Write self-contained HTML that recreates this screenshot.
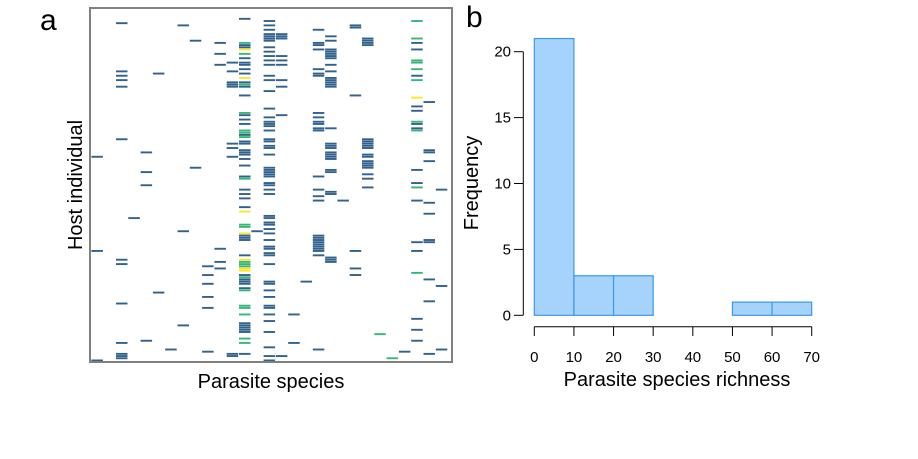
<!DOCTYPE html>
<html><head><meta charset="utf-8"><style>
html,body{margin:0;padding:0;background:#fff;}
svg{display:block;font-family:"Liberation Sans","DejaVu Sans",sans-serif;}
</style></head><body>
<svg id="fig" width="918" height="459" viewBox="0 0 918 459">
<text x="40" y="30" font-size="30">a</text>
<text x="466" y="27" font-size="30">b</text>
<g id="heat"></g>
<rect x="90" y="8" width="362" height="354" fill="none" stroke="#808080" stroke-width="2"/>
<text x="271" y="388" font-size="20" text-anchor="middle">Parasite species</text>
<text transform="translate(82,185) rotate(-90)" font-size="20" text-anchor="middle">Host individual</text>
<g id="hist"></g>
<text x="677" y="386" font-size="20" text-anchor="middle">Parasite species richness</text>
<text transform="translate(478,183) rotate(-90)" font-size="20" text-anchor="middle">Frequency</text>
</svg>
<script>
// Panel a data: per-parasite lists of host rows; value 1=blue,2=green,3=yellow
const nCols = 29;
const nRows = 161;
const cellCols = [0,0,0,2,2,2,2,2,2,2,2,2,2,2,2,2,3,4,4,4,4,5,5,6,7,7,7,8,8,9,9,9,9,9,9,10,10,10,10,10,10,11,11,11,11,11,11,11,11,11,11];
const cellRows = [67,110,160,6,28,30,32,35,59,114,116,134,152,157,158,159,95,65,74,80,151,29,129,155,7,101,144,14,72,117,121,125,131,136,156,15,20,25,109,115,118,24,28,33,34,35,61,63,67,157,158];
const colorMap = {1:"#31618d",2:"#35b779",3:"#fde725"};
const c12Rows = [4,15,16,17,18,20,22,24,25,27,29,31,33,34,35,39,47,48,50,52,55,56,57,58,60,61,64,65,66,68,71,76,77,82,84,86,90,92,98,99,102,103,104,105,112,114,115,116,117,118,119,121,122,123,124,125,127,128,135,136,139,143,144,145,146,147,150,152,157];
const c12Vals = [1,2,1,1,3,2,1,1,1,1,1,3,1,2,1,1,2,1,1,1,2,2,1,2,1,1,1,1,1,1,1,1,2,1,1,1,1,3,2,2,3,1,1,1,1,3,2,2,2,3,3,1,2,1,1,1,1,2,2,2,2,1,1,1,1,1,2,2,1];
const otherCols = {
 13:[101],
 14:[5,7,9,11,12,13,14,17,19,21,23,25,30,32,37,45,49,51,52,53,55,59,60,62,63,66,72,73,74,75,76,79,80,82,84,94,95,97,98,100,102,105,108,109,111,112,116,124,125,128,131,135,136,139,142,147,154,158,160],
 15:[11,12,13,21,23,25,32,35,48,158],
 16:[139,152],
 17:[124],
 18:[9,15,16,18,27,29,30,47,49,51,52,54,55,76,82,85,87,103,104,105,106,107,108,109,110,112,155],
 19:[12,14,18,19,20,21,22,25,28,31,32,33,34,35,54,61,62,63,65,66,67,68,73,74,83,84,113,114,115],
 20:[87],
 21:[7,8,39,110,118,121],
 22:[13,14,15,16,59,60,61,62,63,66,67,69,70,71,72,75,77,81],
 25:[156],
 27:[42,64,65,69,88,93,105,106,123,133,157],
 28:[82,126,155]
};
const greenCols = {23:[148],24:[159]};
const c26Rows = [5,13,15,18,23,24,27,30,32,40,44,46,51,52,54,55,73,79,81,87,106,110,120,141,146,151];
const c26Vals = [2,2,1,1,2,2,2,1,2,3,1,1,2,1,1,2,1,1,2,1,1,1,2,1,1,1];

const x0 = 91, colW = 12.3, y0 = 9, rowH = 2.19;
const heat = document.getElementById('heat');
const NS = "http://www.w3.org/2000/svg";
function cx(c){return x0 + c*colW;}
function ry(r){return y0 + r*rowH;}
function cell(c,r,v){
  const el = document.createElementNS(NS,'rect');
  el.setAttribute('x', cx(c)+0.4);
  el.setAttribute('y', ry(r)+0.1);
  el.setAttribute('width', colW-0.8);
  el.setAttribute('height', 1.9);
  el.setAttribute('fill', colorMap[v]);
  
  
  heat.appendChild(el);
}
for (let i=0;i<cellRows.length;i++) cell(cellCols[i], cellRows[i], 1);
for (let i=0;i<c12Rows.length;i++) cell(12, c12Rows[i], c12Vals[i]);
for (const k in otherCols) otherCols[k].forEach(r=>cell(+k, r, 1));
for (const k in greenCols) greenCols[k].forEach(r=>cell(+k, r, 2));
for (let i=0;i<c26Rows.length;i++) cell(26, c26Rows[i], c26Vals[i]);

// Panel b histogram data
const binStarts = [0,10,20,30,40,50,60];
const binCounts = [21,3,3,0,0,1,1];
const xTicks = [0,10,20,30,40,50,60,70];
const yTicks = [0,5,10,15,20];
const hist = document.getElementById('hist');
function hx(v){return 534.3 + v*(811.7-534.3)/70;}
function hy(v){return 315.3 - v*(315.3-51.7)/20;}
binStarts.forEach((b,i)=>{
  const el = document.createElementNS(NS,'rect');
  el.setAttribute('x', hx(b));
  el.setAttribute('y', hy(binCounts[i]));
  el.setAttribute('width', hx(b+10)-hx(b));
  el.setAttribute('height', hy(0)-hy(binCounts[i]));
  el.setAttribute('fill', '#a6d3fc');
  el.setAttribute('stroke', '#3a98ee');
  el.setAttribute('stroke-width', '1.2');
  
  
  hist.appendChild(el);
});
function line(x1,y1,x2,y2,name){
  const l = document.createElementNS(NS,'line');
  l.setAttribute('x1',x1);l.setAttribute('y1',y1);l.setAttribute('x2',x2);l.setAttribute('y2',y2);
  l.setAttribute('stroke','#000');l.setAttribute('stroke-width','1');
  
  
  hist.appendChild(l);
}
function txt(x,y,s,anchor,name){
  const t = document.createElementNS(NS,'text');
  t.setAttribute('x',x);t.setAttribute('y',y);t.setAttribute('font-size','15');
  t.setAttribute('text-anchor',anchor);t.textContent=s;
  
  
  hist.appendChild(t);
}
line(hx(0),326.7,hx(70),326.7,'x-axis-line');
xTicks.forEach(v=>{line(hx(v),326.7,hx(v),336,'x-tick');txt(hx(v),362,String(v),'middle','x-tick-label');});
line(523.3,hy(0),523.3,hy(20),'y-axis-line');
yTicks.forEach(v=>{line(514,hy(v),523.3,hy(v),'y-tick');txt(511,hy(v)+5,String(v),'end','y-tick-label');});
</script>
</body></html>
